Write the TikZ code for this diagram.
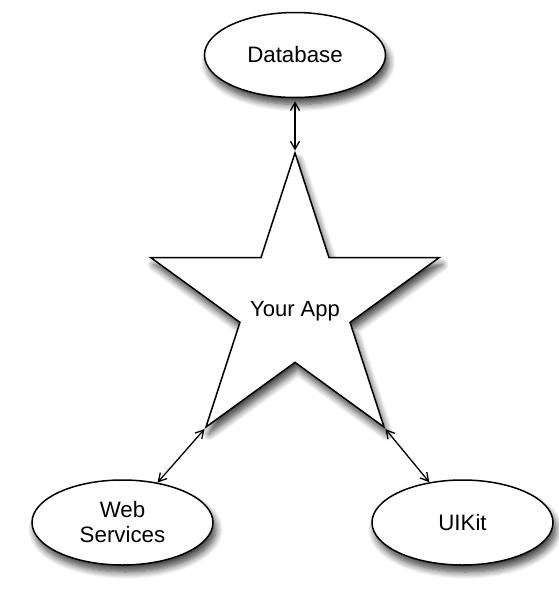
\documentclass[tikz,border=0pt]{standalone}
\usepackage{fontspec}
\setmainfont{Liberation Sans}
\usetikzlibrary{shapes.geometric,arrows.meta,shadows.blur}
\begin{document}
\begin{tikzpicture}[x=1pt,y=-1pt,
  shad/.style={blur shadow={shadow xshift=3pt,shadow yshift=-7pt,shadow blur radius=7pt,shadow opacity=75,shadow blur steps=8}},
  oval/.style={ellipse,draw=black,line width=1.5pt,fill=white,shad,minimum width=181pt,minimum height=85pt,inner sep=0pt,align=center,font=\fontsize{22.3}{25}\selectfont},
  bigstar/.style={star,star points=5,star point ratio=2.618,minimum size=303pt,inner sep=0pt,draw=black,line width=1.5pt,fill=white,shad},
  lbl/.style={font=\fontsize{22}{25}\selectfont,inner sep=0pt},
  link/.style={line width=1.3pt,{Straight Barb[length=8pt,width=9pt]}-{Straight Barb[length=8pt,width=9pt]}}]
\useasboundingbox (0,0) rectangle (558,600);
\node[bigstar] (star) at (295,304.5) {};
\node[lbl] (app) at (295,311) {Your App};
\node[oval] (db) at (295,55) {Database};
\node[oval] (web) at (122.5,522.5) {Web\\Services};
\node[oval] (ui) at (462.5,522.5) {UIKit};
\draw[link] ([yshift=-3pt]db.south) -- (star.outer point 1);
\draw[link] (star.outer point 3) -- (web);
\draw[link] (star.outer point 4) -- (ui);
\end{tikzpicture}
\end{document}
